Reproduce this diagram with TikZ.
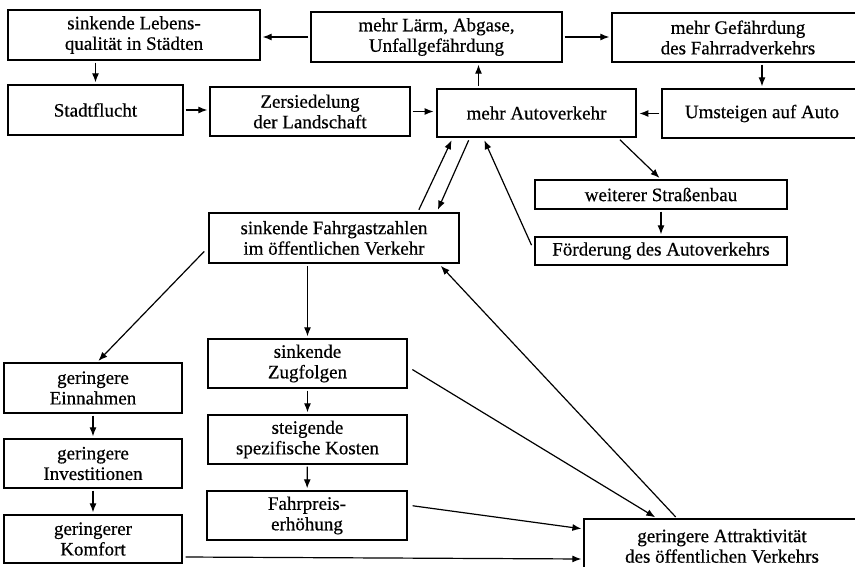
\documentclass[tikz,border=0pt]{standalone}
\usepackage{fontspec}
\setmainfont{Liberation Serif}[FakeBold=0.5]
\usepackage{tikz}
\usetikzlibrary{arrows.meta,calc}

\begin{document}
\begin{tikzpicture}[x=1pt, y=-1pt,
  box/.style={rectangle, draw=black, line width=1.3pt, fill=white, align=center,
              inner sep=2pt, font=\fontsize{19}{20.5}\selectfont},
  mainbox/.style={box, line width=2.8pt},
  arr/.style={-{Latex[length=9pt,width=7pt]}, line width=1.2pt, shorten <=2pt, shorten >=2pt}
]
\useasboundingbox[fill=white] (0,0) rectangle (855,567);

\node[box, minimum width=252, minimum height=50] (leben) at (134,35) {sinkende Lebens-\\qualität in Städten};
\node[box, minimum width=251, minimum height=50] (laerm) at (436.5,37) {mehr Lärm, Abgase,\\Unfallgefährdung};
\node[box, minimum width=252, minimum height=49] (fahrrad) at (738,37.5) {mehr Gefährdung\\des Fahrradverkehrs};
\node[box, minimum width=175, minimum height=50] (flucht) at (95.5,110) {Stadtflucht};
\node[box, minimum width=200, minimum height=49] (zersied) at (310,111.5) {Zersiedelung\\der Landschaft};
\node[mainbox, minimum width=199, minimum height=48] (auto) at (536.5,113) {mehr Autoverkehr};
\node[box, minimum width=200, minimum height=49] (umst) at (762,113.5) {Umsteigen auf Auto};
\node[box, minimum width=252, minimum height=29] (strasse) at (661,194.5) {weiterer Straßenbau};
\node[box, minimum width=252, minimum height=28] (foerd) at (661,251) {Förderung des Autoverkehrs};
\node[mainbox, minimum width=250, minimum height=50] (fahrgast) at (334,238) {sinkende Fahrgastzahlen\\im öffentlichen Verkehr};
\node[box, minimum width=178, minimum height=50] (einn) at (93,388) {geringere\\Einnahmen};
\node[box, minimum width=178, minimum height=49] (invest) at (93,463.5) {geringere\\Investitionen};
\node[box, minimum width=178, minimum height=48] (komf) at (93,539) {geringerer\\Komfort};
\node[box, minimum width=199, minimum height=49] (zug) at (307.5,363.5) {sinkende\\Zugfolgen};
\node[box, minimum width=199, minimum height=49] (kosten) at (307.5,439.5) {steigende\\spezifische Kosten};
\node[box, minimum width=200, minimum height=49] (preis) at (307,515.5) {Fahrpreis-\\erhöhung};
\node[box, minimum width=276, minimum height=54] (attr) at (722,546) {geringere Attraktivität\\des öffentlichen Verkehrs};

\draw[arr] (laerm.west) -- (laerm.west -| leben.east);
\draw[arr] (laerm.east) -- (laerm.east -| fahrrad.west);
\draw[arr] (flucht.north |- leben.south) -- (flucht.north);
\draw[arr] (flucht.east) -- (flucht.east -| zersied.west);
\draw[arr] (zersied.east) -- (zersied.east -| auto.west);
\draw[arr] (umst.west) -- (umst.west -| auto.east);
\draw[arr] (umst.north |- fahrrad.south) -- (umst.north);
\draw[arr] ($(auto.north)+(-58,0)$) -- ($(auto.north |- laerm.south)+(-58,0)$);
\draw[arr] ($(auto.south)+(82,0)$) -- (strasse.north);
\draw[arr] (strasse) -- (foerd);
\draw[arr] ($(foerd.west)+(-2,-4)$) -- ($(auto.south)+(-53,0)$);
\draw[arr] ($(fahrgast.north)+(84,0)$) -- ($(auto.south)+(-84,0)$);
\draw[arr] ($(auto.south)+(-67,0)$) -- ($(fahrgast.north)+(103,0)$);
\draw[arr] ($(fahrgast.west)+(-2,12)$) -- ($(einn.north)+(4,0)$);
\draw[arr] (zug.north |- fahrgast.south) -- (zug.north);
\draw[arr] (einn) -- (invest);
\draw[arr] (invest) -- (komf);
\draw[arr] (zug) -- (kosten);
\draw[arr] (kosten) -- (preis);
\draw[arr] ($(zug.east)+(3,5)$) -- ($(attr.north)+(-65,0)$);
\draw[arr] ($(preis.east)+(3,-10)$) -- ($(attr.west)+(0,-17)$);
\draw[arr] ($(komf.east)+(1,18)$) -- ($(attr.west)+(0,13)$);
\draw[arr] ($(attr.north)+(-45,0)$) -- ($(fahrgast.south east)+(-21,0)$);
\end{tikzpicture}
\end{document}
